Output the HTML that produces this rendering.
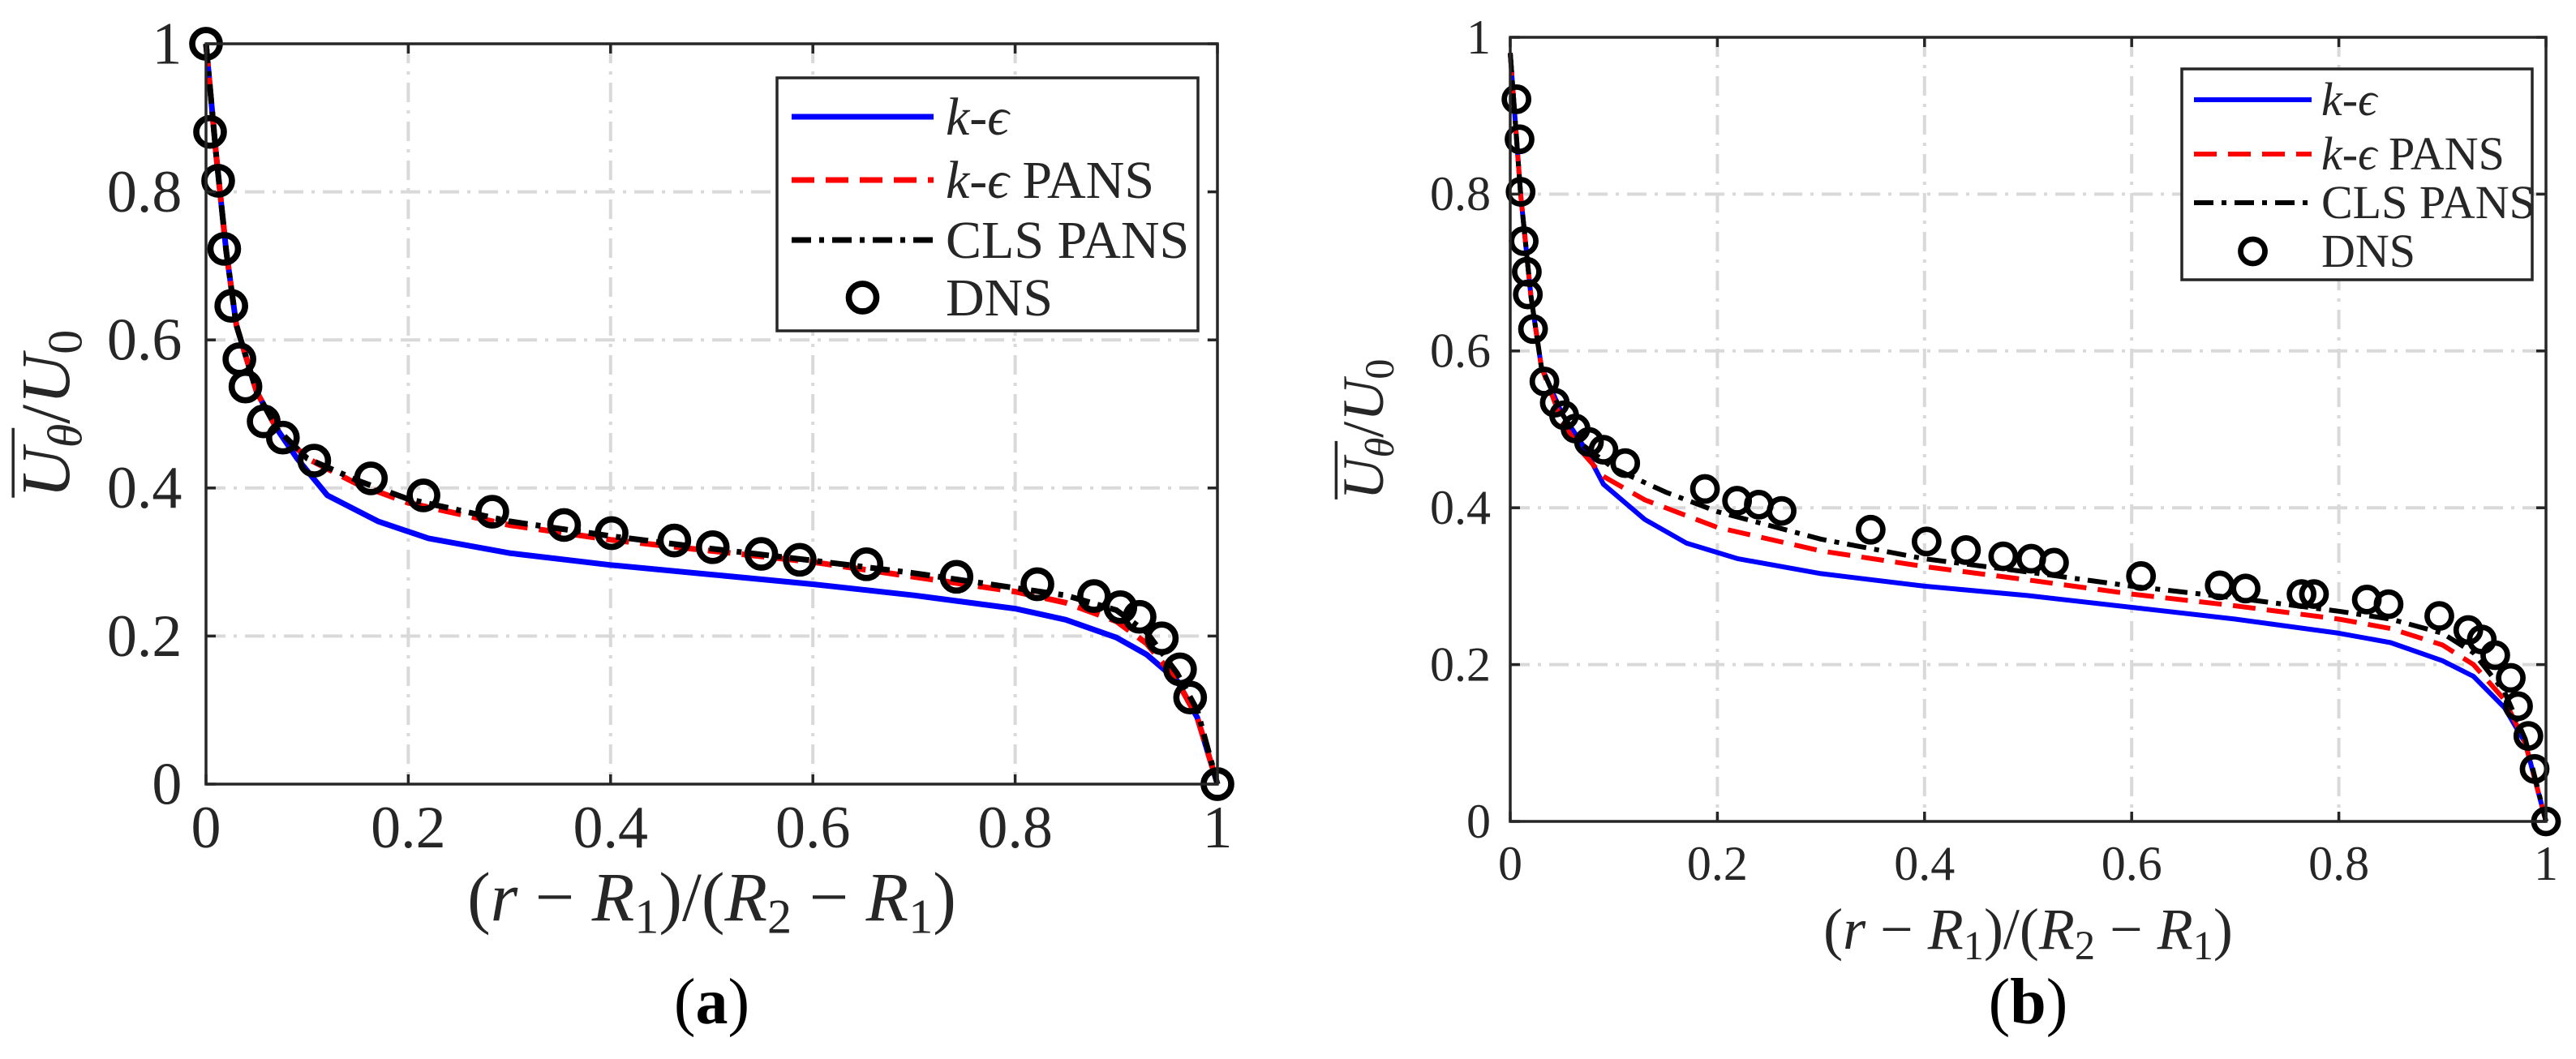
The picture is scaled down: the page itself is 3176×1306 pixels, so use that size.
<!DOCTYPE html>
<html><head><meta charset="utf-8"><style>
html,body{margin:0;padding:0;background:#fff;}
svg{display:block;font-family:"Liberation Serif",serif;}
</style></head><body>
<svg id="fig" width="3176" height="1306" viewBox="0 0 3176 1306" xmlns="http://www.w3.org/2000/svg"></svg>
<script>
// ---- Panel (a) data ----
const aDnsX=[0,0.004,0.012,0.018,0.025,0.033,0.039,0.057,0.076,0.107,0.163,0.215,0.283,0.354,0.401,0.463,0.501,0.549,0.587,0.653,0.742,0.822,0.878,0.904,0.923,0.945,0.963,0.973,1];
const aDnsY=[1,0.881,0.815,0.723,0.646,0.574,0.537,0.490,0.468,0.437,0.413,0.390,0.368,0.350,0.339,0.329,0.320,0.311,0.303,0.297,0.280,0.270,0.254,0.239,0.226,0.197,0.155,0.117,0];
const aKeX=[0,0.01,0.02,0.03,0.05,0.07,0.09,0.12,0.17,0.22,0.3,0.4,0.5,0.6,0.7,0.8,0.85,0.9,0.93,0.96,0.98,1];
const aKeY=[1,0.85,0.72,0.62,0.53,0.48,0.44,0.39,0.355,0.332,0.312,0.296,0.283,0.27,0.255,0.237,0.222,0.198,0.175,0.14,0.09,0];
const aPaX=[0,0.01,0.02,0.03,0.05,0.07,0.1,0.15,0.2,0.3,0.4,0.5,0.6,0.7,0.8,0.85,0.9,0.93,0.96,0.98,1];
const aPaY=[1,0.85,0.72,0.62,0.53,0.48,0.44,0.405,0.38,0.35,0.33,0.315,0.30,0.28,0.26,0.245,0.22,0.19,0.14,0.09,0];
const aClX=[0,0.01,0.02,0.03,0.05,0.07,0.1,0.15,0.2,0.3,0.4,0.5,0.6,0.7,0.8,0.85,0.9,0.93,0.96,0.98,1];
const aClY=[1,0.85,0.72,0.62,0.53,0.48,0.44,0.41,0.385,0.355,0.335,0.318,0.302,0.285,0.265,0.255,0.235,0.205,0.15,0.1,0];
// ---- Panel (b) data ----
const bDnsX=[0.006,0.009,0.010,0.013,0.016,0.017,0.022,0.033,0.043,0.052,0.063,0.076,0.090,0.111,0.188,0.219,0.240,0.262,0.348,0.402,0.440,0.476,0.503,0.525,0.609,0.685,0.710,0.764,0.776,0.827,0.848,0.897,0.925,0.938,0.951,0.966,0.973,0.983,0.989,1];
const bDnsY=[0.921,0.870,0.803,0.740,0.701,0.672,0.628,0.561,0.534,0.518,0.501,0.484,0.474,0.457,0.424,0.409,0.404,0.396,0.372,0.357,0.346,0.338,0.335,0.330,0.313,0.301,0.297,0.290,0.290,0.283,0.277,0.262,0.244,0.232,0.212,0.183,0.147,0.109,0.067,0];
const bKeX=[0,0.01,0.02,0.03,0.05,0.07,0.09,0.13,0.17,0.22,0.3,0.4,0.5,0.6,0.7,0.8,0.85,0.9,0.93,0.96,0.98,1];
const bKeY=[0.98,0.8,0.67,0.58,0.52,0.48,0.43,0.385,0.355,0.335,0.316,0.300,0.288,0.273,0.258,0.240,0.228,0.205,0.185,0.145,0.1,0];
const bPaX=[0,0.01,0.02,0.03,0.05,0.07,0.09,0.13,0.2,0.3,0.4,0.5,0.6,0.7,0.8,0.85,0.9,0.93,0.96,0.98,1];
const bPaY=[0.98,0.8,0.67,0.58,0.51,0.47,0.44,0.41,0.375,0.345,0.325,0.308,0.290,0.275,0.258,0.246,0.225,0.20,0.155,0.1,0];
const bClX=[0,0.01,0.02,0.03,0.05,0.07,0.1,0.15,0.2,0.3,0.4,0.5,0.6,0.7,0.8,0.85,0.9,0.93,0.96,0.98,1];
const bClY=[0.98,0.8,0.67,0.58,0.52,0.48,0.45,0.42,0.395,0.36,0.335,0.318,0.300,0.285,0.268,0.258,0.24,0.215,0.165,0.105,0];
const tickVals=[0,0.2,0.4,0.6,0.8,1];
const tickLabels=["0","0.2","0.4","0.6","0.8","1"];
const legendLabels=["k-ϵ","k-ϵ PANS","CLS PANS","DNS"];

const NS="http://www.w3.org/2000/svg";
const svg=document.getElementById('fig');
function mk(tag,attrs,parent){const e=document.createElementNS(NS,tag);for(const k in attrs)e.setAttribute(k,attrs[k]);(parent||svg).appendChild(e);return e;}

function panel(cfg){
  const g=mk('g',{});
  
  
  const sx=v=>cfg.x0+v*(cfg.x1-cfg.x0), sy=v=>cfg.y0-v*(cfg.y0-cfg.y1);
  const LW=cfg.lw;
  tickVals.forEach((t,i)=>{
    if(i>0&&i<5){
      const gx=mk('line',{x1:sx(t),x2:sx(t),y1:cfg.y1,y2:cfg.y0,stroke:'#d9d9d9','stroke-width':4,'stroke-dasharray':'24 10 4 10'},g);
      
      
      const gy=mk('line',{x1:cfg.x0,x2:cfg.x1,y1:sy(t),y2:sy(t),stroke:'#d9d9d9','stroke-width':4,'stroke-dasharray':'24 10 4 10'},g);
      
      
    }
  });
  const path=(xs,ys)=>xs.map((x,i)=>(i?'L':'M')+sx(x).toFixed(1)+' '+sy(ys[i]).toFixed(1)).join(' ');
  const s1=mk('path',{d:path(cfg.ke[0],cfg.ke[1]),fill:'none',stroke:'#0000ff','stroke-width':LW,'stroke-linejoin':'round'},g);
  
  
  const s2=mk('path',{d:path(cfg.pa[0],cfg.pa[1]),fill:'none',stroke:'#ff0000','stroke-width':LW,'stroke-dasharray':'28 14'},g);
  
  
  const s3=mk('path',{d:path(cfg.cl[0],cfg.cl[1]),fill:'none',stroke:'#000','stroke-width':LW,'stroke-dasharray':'24 10 6 10'},g);
  
  
  cfg.dns[0].forEach((x,i)=>{
    const c=mk('circle',{cx:sx(x),cy:sy(cfg.dns[1][i]),r:cfg.r,fill:'none',stroke:'#000','stroke-width':cfg.r*0.45},g);
    
    
  });
  const box=mk('rect',{x:cfg.x0,y:cfg.y1,width:cfg.x1-cfg.x0,height:cfg.y0-cfg.y1,fill:'none',stroke:'#262626','stroke-width':3.5},g);
  
  
  tickVals.forEach((t,i)=>{
    mk('line',{x1:sx(t),x2:sx(t),y1:cfg.y0,y2:cfg.y0-12,stroke:'#262626','stroke-width':3.5},g);
    mk('line',{x1:sx(t),x2:sx(t),y1:cfg.y1,y2:cfg.y1+12,stroke:'#262626','stroke-width':3.5},g);
    mk('line',{x1:cfg.x0,x2:cfg.x0+12,y1:sy(t),y2:sy(t),stroke:'#262626','stroke-width':3.5},g);
    mk('line',{x1:cfg.x1,x2:cfg.x1-12,y1:sy(t),y2:sy(t),stroke:'#262626','stroke-width':3.5},g);
    const xl=mk('text',{x:sx(t),y:cfg.xtY,'font-size':cfg.fs,'text-anchor':'middle',fill:'#262626'},g);
    xl.textContent=tickLabels[i];
    
    
    const yl=mk('text',{x:cfg.x0-cfg.fs*0.4,y:sy(t)+cfg.fs*0.33,'font-size':cfg.fs,'text-anchor':'end',fill:'#262626'},g);
    yl.textContent=tickLabels[i];
    
    
  });
  const tf=cfg.tfs, sub=tf*0.7, dy=tf*0.18;
  const xt=mk('text',{x:(cfg.x0+cfg.x1)/2,y:cfg.xlY,'font-size':tf,'text-anchor':'middle',fill:'#262626'},g);
  xt.innerHTML='(<tspan font-style="italic">r</tspan> − <tspan font-style="italic">R</tspan><tspan font-size="'+sub+'" dy="'+dy+'">1</tspan><tspan dy="-'+dy+'">)/(</tspan><tspan font-style="italic">R</tspan><tspan font-size="'+sub+'" dy="'+dy+'">2</tspan><tspan dy="-'+dy+'"> − </tspan><tspan font-style="italic">R</tspan><tspan font-size="'+sub+'" dy="'+dy+'">1</tspan><tspan dy="-'+dy+'">)</tspan>';
  
  
  const yc=(cfg.y0+cfg.y1)/2;
  const yg=mk('g',{transform:'translate('+cfg.ylX+','+yc+') rotate(-90)'},g);
  
  
  const yt=mk('text',{x:0,y:0,'font-size':tf,'text-anchor':'middle',fill:'#262626'},yg);
  yt.innerHTML='<tspan font-style="italic">U</tspan><tspan font-style="italic" font-size="'+sub+'" dy="'+dy+'">θ</tspan><tspan dy="-'+dy+'">/</tspan><tspan font-style="italic">U</tspan><tspan font-size="'+sub+'" dy="'+dy+'">0</tspan>';
  mk('line',{x1:-tf*1.2,x2:-tf*0.2,y1:-tf*0.8,y2:-tf*0.8,stroke:'#262626','stroke-width':3.5},yg);
  const L=cfg.leg;
  const lg=mk('g',{},g);
  
  
  mk('rect',{x:L.x,y:L.y,width:L.w,height:L.h,fill:'#fff',stroke:'#262626','stroke-width':3.5},lg);
  const styles=[{stroke:'#0000ff'},{stroke:'#ff0000','stroke-dasharray':'28 14'},{stroke:'#000','stroke-dasharray':'24 10 6 10'}];
  legendLabels.forEach((lab,i)=>{
    const yy=L.rows[i];
    if(i<3){const a=Object.assign({x1:L.lx0,x2:L.lx1,y1:yy,y2:yy,'stroke-width':LW},styles[i]);mk('line',a,lg);}
    else mk('circle',{cx:(L.lx0+L.lx1)/2,cy:yy,r:cfg.r,fill:'none',stroke:'#000','stroke-width':cfg.r*0.45},lg);
    const t=mk('text',{x:L.tx,y:yy+L.fs*0.33,'font-size':L.fs,fill:'#262626'},lg);
    if(i<2) t.innerHTML='<tspan font-style="italic">k</tspan>-<tspan font-style="italic">ϵ</tspan>'+(i==1?' PANS':'');
    else t.textContent=lab;
    
    
  });
  const cap=mk('text',{x:(cfg.x0+cfg.x1)/2,y:cfg.capY,'font-size':cfg.cfs,'text-anchor':'middle',fill:'#000'},g);
  cap.innerHTML='(<tspan font-weight="bold">'+cfg.cap+'</tspan>)';
  
  
}
panel({name:'panel-a',x0:254,x1:1501,y0:967,y1:54,r:17,lw:7,fs:74,tfs:86,cfs:80,xtY:1045,xlY:1135,ylX:85,capY:1262,cap:'a',
  ke:[aKeX,aKeY],pa:[aPaX,aPaY],cl:[aClX,aClY],dns:[aDnsX,aDnsY],
  leg:{x:958,y:96,w:519,h:312,rows:[144,222,296,367],lx0:976,lx1:1151,tx:1166,fs:66}});
panel({name:'panel-b',x0:1862,x1:3139,y0:1013,y1:46,r:15,lw:6,fs:60,tfs:72,cfs:80,xtY:1085,xlY:1170,ylX:1705,capY:1262,cap:'b',
  ke:[bKeX,bKeY],pa:[bPaX,bPaY],cl:[bClX,bClY],dns:[bDnsX,bDnsY],
  leg:{x:2690,y:85,w:432,h:260,rows:[123,190,250,310],lx0:2705,lx1:2850,tx:2862,fs:58}});
</script>
</body></html>
